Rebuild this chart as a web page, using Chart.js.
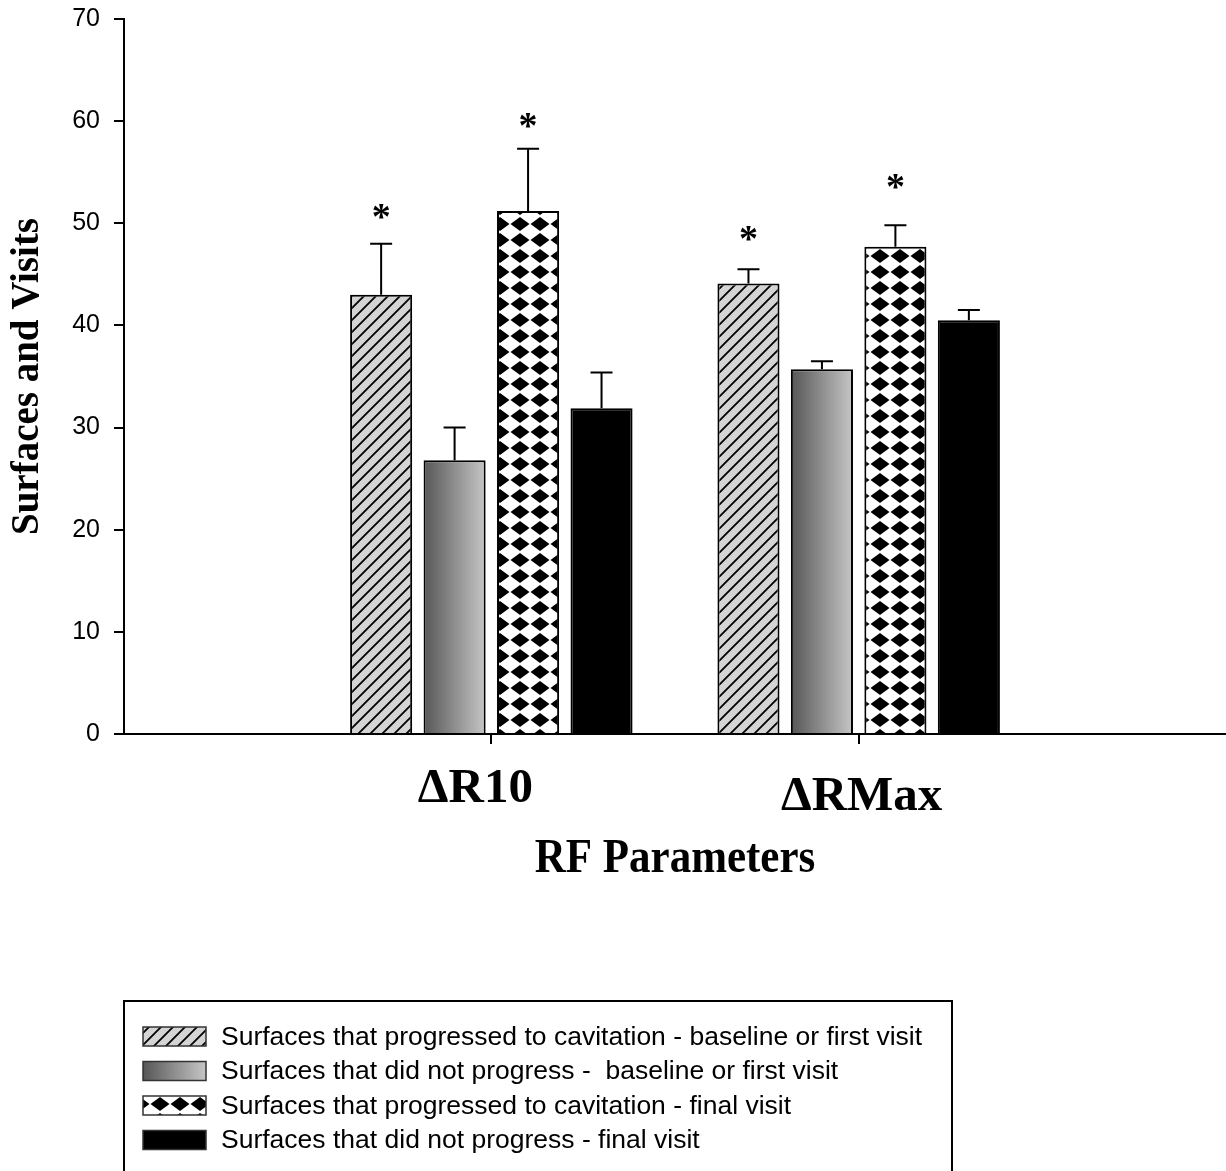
<!DOCTYPE html>
<html>
<head>
<meta charset="utf-8">
<script src="https://cdn.jsdelivr.net/npm/chart.js@4.4.1/dist/chart.umd.min.js"></script>
<style>
  html, body { margin: 0; padding: 0; background: #fff; }
  #wrap { width: 1226px; height: 1171px; position: relative; }
</style>
</head>
<body>
<div id="wrap"><canvas id="chartRF"></canvas></div>
<script>
// ===== DONNEES =====
const categories = ['ΔR10', 'ΔRMax']
const seriesLabels = [
    'Surfaces that progressed to cavitation - baseline or first visit',
    'Surfaces that did not progress -  baseline or first visit',
    'Surfaces that progressed to cavitation - final visit',
    'Surfaces that did not progress - final visit'
]
const progBase = [43.0, 44.1]
const progBaseErr = [5.0, 1.4]
const nonBase = [26.8, 35.7]
const nonBaseErr = [3.2, 0.8]
const progFinal = [51.2, 47.7]
const progFinalErr = [6.1, 2.1]
const nonFinal = [31.9, 40.5]
const nonFinalErr = [3.5, 1.0]
// hauteur des asterisques (en unites de l'axe), null = pas de marque
const progBaseStar = [51.2, 49.0]
const progFinalStar = [60.1, 54.1]
const nonStar = [null, null]
const yTicks = [0, 10, 20, 30, 40, 50, 60, 70]

const sans = '"Liberation Sans", Arial, sans-serif'
const serif = '"Liberation Serif", "Times New Roman", serif'
const catPct = 0.8
const barPct = 0.845

// ===== MOTIFS =====
function motifHachures() {
    const c = document.createElement('canvas')
    c.width = 12; c.height = 12
    const g = c.getContext('2d')
    g.fillStyle = '#d4d4d4'
    g.fillRect(0, 0, 12, 12)
    g.strokeStyle = '#000'
    g.lineWidth = 1.8
    g.beginPath()
    for (const o of [-12, 0, 12]) {
        g.moveTo(o - 2, 14)
        g.lineTo(o + 14, -2)
    }
    g.stroke()
    return g.createPattern(c, 'repeat')
}

function motifLosanges() {
    const c = document.createElement('canvas')
    c.width = 20; c.height = 16
    const g = c.getContext('2d')
    g.fillStyle = '#fff'
    g.fillRect(0, 0, 20, 16)
    g.fillStyle = '#000'
    for (const [cx, cy] of [[0, 0], [20, 0], [0, 16], [20, 16]]) {
        g.beginPath()
        g.moveTo(cx - 9.5, cy)
        g.lineTo(cx, cy - 7)
        g.lineTo(cx + 9.5, cy)
        g.lineTo(cx, cy + 7)
        g.closePath()
        g.fill()
    }
    return g.createPattern(c, 'repeat')
}

function degrade(ctx, x0, x1) {
    const g = ctx.createLinearGradient(x0, 0, x1, 0)
    g.addColorStop(0, '#565656')
    g.addColorStop(1, '#c6c6c6')
    return g
}

// degrade calcule pour chaque barre a partir de l'axe x
function fondDegrade(c) {
    const xs = c.chart.scales && c.chart.scales.x
    if (c.type !== 'data' || !xs || !c.parsed) return '#8a8a8a'
    const nb = c.chart.data.datasets.length
    const step = xs.getPixelForValue(2) - xs.getPixelForValue(1)
    const group = step * catPct
    const chunk = group / nb
    const mid = xs.getPixelForValue(c.parsed.x) - group / 2 + chunk * (c.datasetIndex + 0.5)
    const half = chunk * barPct / 2
    if (!isFinite(mid) || !isFinite(half) || half <= 0) return '#8a8a8a'
    return degrade(c.chart.ctx, mid - half, mid + half)
}

const fonds = [motifHachures(), fondDegrade, motifLosanges(), '#000']

function serie(values) {
    return values.map((v, i) => ({ x: i + 1, y: v }))
}

// ===== BARRES D'ERREUR + ASTERISQUES =====
const erreursPlugin = {
    id: 'erreurs',
    afterDatasetsDraw(chart) {
        const ctx = chart.ctx
        const ys = chart.scales.y
        ctx.save()
        ctx.strokeStyle = '#000'
        ctx.lineWidth = 2
        chart.data.datasets.forEach((ds, i) => {
            const meta = chart.getDatasetMeta(i)
            meta.data.forEach((bar, j) => {
                const v = ds.data[j].y
                const top = ys.getPixelForValue(v + ds.errors[j])
                ctx.beginPath()
                ctx.moveTo(bar.x, bar.y)
                ctx.lineTo(bar.x, top)
                ctx.moveTo(bar.x - 11, top)
                ctx.lineTo(bar.x + 11, top)
                ctx.stroke()
                if (ds.stars[j] != null) {
                    ctx.font = 'bold 38px ' + serif
                    ctx.fillStyle = '#000'
                    ctx.textAlign = 'center'
                    ctx.textBaseline = 'alphabetic'
                    const m = ctx.measureText('*')
                    const cy = ys.getPixelForValue(ds.stars[j])
                    ctx.fillText('*', bar.x, cy + (m.actualBoundingBoxAscent - m.actualBoundingBoxDescent) / 2)
                }
            })
        })
        ctx.restore()
    }
}

function texteEtire(ctx, txt, x, y, sy) {
    ctx.save()
    ctx.translate(x, y)
    ctx.scale(1, sy)
    ctx.fillText(txt, 0, 0)
    ctx.restore()
}

// ===== LIBELLES X + LEGENDE =====
const textesPlugin = {
    id: 'textes',
    afterDraw(chart) {
        const ctx = chart.ctx
        const xs = chart.scales.x
        const area = chart.chartArea
        ctx.save()
        ctx.fillStyle = '#000'
        ctx.textAlign = 'center'
        ctx.textBaseline = 'alphabetic'
        const decal = [[-16, 68], [3, 76]]
        ctx.font = 'bold 49px ' + serif
        categories.forEach((c, i) => {
            const d = decal[i] || [0, 70]
            ctx.fillText(c, xs.getPixelForValue(i + 1) + d[0], area.bottom + d[1])
        })
        ctx.font = 'bold 43px ' + serif
        texteEtire(ctx, 'RF Parameters', (area.left + area.right) / 2, area.bottom + 138, 1.15)

        // legende encadree
        ctx.lineWidth = 2
        ctx.strokeStyle = '#000'
        ctx.strokeRect(124, 1001, 828, 240)
        ctx.textAlign = 'left'
        ctx.textBaseline = 'middle'
        ctx.font = '26.5px ' + sans
        chart.data.datasets.forEach((ds, i) => {
            const y = 1036.5 + i * 34.5
            const f = typeof ds.backgroundColor === 'function' ? degrade(ctx, 143, 206) : ds.backgroundColor
            ctx.fillStyle = f
            ctx.fillRect(143, y - 9.5, 63, 19)
            ctx.lineWidth = 1.5
            ctx.strokeStyle = '#333'
            ctx.strokeRect(143, y - 9.5, 63, 19)
            ctx.fillStyle = '#000'
            ctx.fillText(ds.label, 221, y + 1)
        })
        ctx.restore()
    }
}

const series = [progBase, nonBase, progFinal, nonFinal]
const erreurs = [progBaseErr, nonBaseErr, progFinalErr, nonFinalErr]
const etoiles = [progBaseStar, nonStar, progFinalStar, nonStar]

new Chart(document.getElementById('chartRF'), {
    type: 'bar',
    data: {
        datasets: series.map((s, i) => ({
            label: seriesLabels[i],
            data: serie(s),
            errors: erreurs[i],
            stars: etoiles[i],
            backgroundColor: fonds[i],
            borderColor: '#000',
            borderWidth: 2,
            categoryPercentage: catPct,
            barPercentage: barPct
        }))
    },
    options: {
        responsive: true,
        maintainAspectRatio: false,
        animation: false,
        devicePixelRatio: 1,
        layout: { padding: { top: 19, left: 0, right: 0, bottom: 427 } },
        plugins: { legend: { display: false }, tooltip: { enabled: false } },
        scales: {
            x: {
                type: 'linear',
                offset: false,
                min: 0,
                max: categories.length + 1,
                ticks: { display: false, stepSize: 1 },
                grid: {
                    offset: false,
                    drawOnChartArea: false,
                    tickLength: 10,
                    lineWidth: 2,
                    color: c => (c.tick && c.tick.value >= 1 && c.tick.value <= categories.length) ? '#000' : 'rgba(0,0,0,0)'
                },
                border: { color: '#000', width: 2 },
                afterFit: s => { s.height = 10; s.paddingLeft = 0; s.paddingRight = 0 }
            },
            y: {
                min: 0,
                max: 70,
                afterBuildTicks: s => { s.ticks = yTicks.map(v => ({ value: v })) },
                ticks: { color: '#000', padding: 14, font: { family: sans, size: 25 } },
                grid: { drawOnChartArea: false, tickLength: 10, lineWidth: 2, color: '#000' },
                border: { color: '#000', width: 2 },
                title: {
                    display: true,
                    text: 'Surfaces and Visits',
                    color: '#000',
                    font: { family: serif, size: 39, weight: 'bold' },
                    padding: { top: 5, bottom: 0 }
                },
                afterFit: s => { s.width = 124; s.paddingTop = 0; s.paddingBottom = 0 }
            }
        }
    },
    plugins: [erreursPlugin, textesPlugin]
})
</script>
</body>
</html>
